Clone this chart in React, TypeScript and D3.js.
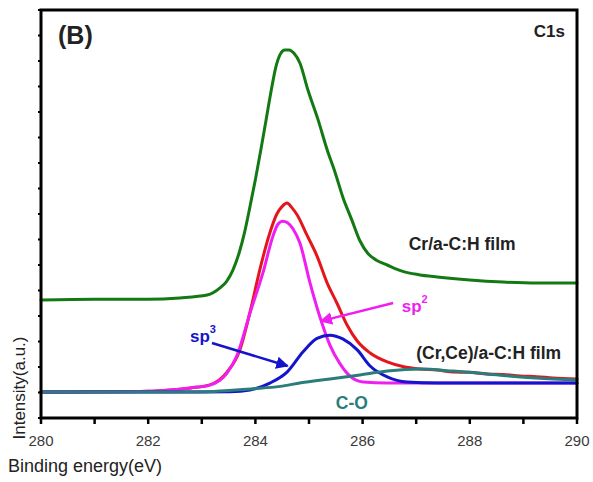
import * as d3 from 'd3';

// Binding energy (eV) / intensity pairs
const greenX = [280, 281, 282, 282.59, 283.1, 283.34, 283.46, 283.58, 283.7, 283.8, 283.9, 284.0, 284.1, 284.2, 284.3, 284.38, 284.46, 284.55, 284.63, 284.72, 284.83, 284.98, 285.17, 285.34, 285.49, 285.63, 285.8, 285.95, 286.1, 286.25, 286.46, 286.75, 287.05, 287.39, 288.0, 288.62, 289.25, 290];
const greenY = [4.63, 4.66, 4.66, 4.71, 4.82, 5.1, 5.35, 5.8, 6.5, 7.3, 8.3, 9.35, 10.5, 11.7, 12.9, 13.75, 14.25, 14.43, 14.43, 14.3, 13.92, 12.86, 11.69, 10.51, 9.61, 8.67, 7.76, 6.95, 6.45, 6.2, 6.0, 5.75, 5.62, 5.53, 5.41, 5.33, 5.29, 5.29];

const redX = [280, 281, 282, 282.41, 282.8, 283.15, 283.47, 283.71, 283.9, 284.09, 284.24, 284.4, 284.5, 284.59, 284.68, 284.78, 284.96, 285.15, 285.34, 285.52, 285.71, 285.9, 286.14, 286.46, 286.75, 287.07, 287.4, 287.69, 288.0, 288.32, 288.62, 288.94, 289.25, 289.55, 290];
const redY = [1.02, 1.03, 1.05, 1.1, 1.18, 1.3, 1.8, 2.67, 4.16, 5.88, 7.06, 8.0, 8.3, 8.43, 8.25, 7.96, 7.18, 6.35, 5.29, 4.51, 3.65, 3.02, 2.55, 2.2, 2.02, 1.92, 1.88, 1.8, 1.79, 1.73, 1.71, 1.65, 1.62, 1.57, 1.53];

const sp2X = [280, 281, 282, 282.41, 282.78, 283.15, 283.47, 283.66, 283.9, 284.14, 284.33, 284.42, 284.51, 284.6, 284.7, 284.83, 285.02, 285.21, 285.39, 285.58, 285.76, 286.01, 286.46, 287, 288, 289, 290];
const sp2Y = [1.02, 1.03, 1.05, 1.1, 1.18, 1.29, 1.76, 2.47, 4.12, 5.69, 7.15, 7.6, 7.72, 7.66, 7.42, 6.86, 5.29, 3.92, 2.86, 2.12, 1.65, 1.41, 1.37, 1.37, 1.37, 1.37, 1.37];

const sp3X = [280, 281, 282, 283, 283.53, 283.9, 284.27, 284.59, 284.89, 285.15, 285.39, 285.63, 285.9, 286.14, 286.46, 286.83, 287.39, 288, 289, 290];
const sp3Y = [1.02, 1.02, 1.02, 1.02, 1.03, 1.1, 1.37, 1.8, 2.6, 3.12, 3.25, 3.1, 2.67, 2.04, 1.61, 1.41, 1.37, 1.37, 1.37, 1.37];

const coX = [280, 281, 282, 282.97, 283.96, 284.46, 284.85, 285.39, 285.95, 286.46, 287.07, 287.69, 288.32, 288.94, 289.55, 290];
const coY = [1.02, 1.02, 1.02, 1.03, 1.15, 1.24, 1.38, 1.53, 1.69, 1.84, 1.92, 1.84, 1.73, 1.61, 1.53, 1.49];

const xTicks = [280, 282, 284, 286, 288, 290];
const xMinor = [281, 283, 285, 287, 289];
const yTicks = d3.range(0, 17);

const W = 593;
const H = 482;
const M = { left: 41, right: 16, top: 10, bottom: 64 };
const FONT = '"Liberation Sans", Arial, Helvetica, sans-serif';

const series = [
  { xs: greenX, ys: greenY, color: '#137a13' },
  { xs: redX, ys: redY, color: '#e3161b' },
  { xs: sp2X, ys: sp2Y, color: '#f01ef0' },
  { xs: sp3X, ys: sp3Y, color: '#1414cc' },
  { xs: coX, ys: coY, color: '#2a7d7a' },
];

export default function App() {
  const x = d3.scaleLinear().domain([280, 290]).range([M.left, W - M.right]);
  const y = d3.scaleLinear().domain([0, 16]).range([H - M.bottom, M.top]);

  const line = d3
    .line<[number, number]>()
    .x((d) => x(d[0]))
    .y((d) => y(d[1]))
    .curve(d3.curveMonotoneX);

  const bottom = H - M.bottom;

  return (
    <svg
      width={W}
      height={H}
      style={{ position: 'absolute', left: 0, top: 0, background: '#fff' }}
      fontFamily={FONT}
    >
      <defs>
        <marker id="ahM" viewBox="0 0 10 10" refX="9" refY="5" markerWidth="5" markerHeight="5" orient="auto">
          <path d="M0,0 L10,5 L0,10 z" fill="#f01ef0" />
        </marker>
        <marker id="ahB" viewBox="0 0 10 10" refX="9" refY="5" markerWidth="5" markerHeight="5" orient="auto">
          <path d="M0,0 L10,5 L0,10 z" fill="#1414cc" />
        </marker>
      </defs>

      {series.map((s, i) => (
        <path
          key={i}
          d={line(s.xs.map((v, j) => [v, s.ys[j]] as [number, number])) || ''}
          fill="none"
          stroke={s.color}
          strokeWidth={3}
          strokeLinejoin="round"
          strokeLinecap="round"
        />
      ))}

      {/* frame */}
      <rect
        x={M.left}
        y={M.top}
        width={W - M.left - M.right}
        height={H - M.top - M.bottom}
        fill="none"
        stroke="#000"
        strokeWidth={3}
      />

      {/* x ticks */}
      {[...xTicks, ...xMinor].map((t) => (
        <line key={'xt' + t} x1={x(t)} x2={x(t)} y1={bottom} y2={bottom + 6} stroke="#000" strokeWidth={2.5} />
      ))}
      {xTicks.map((t) => (
        <text key={'xl' + t} x={x(t)} y={bottom + 28} textAnchor="middle" fontSize={15} fill="#3a3a3a">
          {t}
        </text>
      ))}

      {/* y ticks */}
      {yTicks.map((t) => (
        <line key={'yt' + t} x1={M.left - 3} x2={M.left} y1={y(t)} y2={y(t)} stroke="#000" strokeWidth={2} />
      ))}

      <text x={8} y={472} fontSize={18} fill="#222">Binding energy(eV)</text>
      <text transform={`translate(25,${388}) rotate(-90)`} textAnchor="middle" fontSize={17} fill="#222">
        Intensity(a.u.)
      </text>

      <text x={58} y={44} fontSize={25} fontWeight="bold" fill="#222">(B)</text>
      <text x={565} y={37} textAnchor="end" fontSize={17} fontWeight="bold" fill="#222">C1s</text>

      <text x={x(286.86)} y={y(6.6)} fontSize={17.5} fontWeight="bold" fill="#222">
        Cr/a-C:H film
      </text>
      <text x={x(287.0)} y={y(2.3)} fontSize={17.5} fontWeight="bold" fill="#222">
        (Cr,Ce)/a-C:H film
      </text>
      <text x={x(285.5)} y={y(0.35)} fontSize={17.5} fontWeight="bold" fill="#2a7d7a">
        C-O
      </text>

      {/* sp2 label + arrow */}
      <text x={x(286.73)} y={y(4.15)} fontSize={17} fontWeight="bold" fill="#f01ef0">
        sp<tspan fontSize={11} dy={-9}>2</tspan>
      </text>
      <line
        x1={x(286.57)}
        y1={y(4.51)}
        x2={x(285.22)}
        y2={y(3.8)}
        stroke="#f01ef0"
        strokeWidth={2.5}
        markerEnd="url(#ahM)"
      />

      {/* sp3 label + arrow */}
      <text x={x(282.78)} y={y(2.98)} fontSize={17} fontWeight="bold" fill="#1414cc">
        sp<tspan fontSize={11} dy={-9}>3</tspan>
      </text>
      <line
        x1={x(283.19)}
        y1={y(2.94)}
        x2={x(284.6)}
        y2={y(2.04)}
        stroke="#1414cc"
        strokeWidth={2.5}
        markerEnd="url(#ahB)"
      />
    </svg>
  );
}
